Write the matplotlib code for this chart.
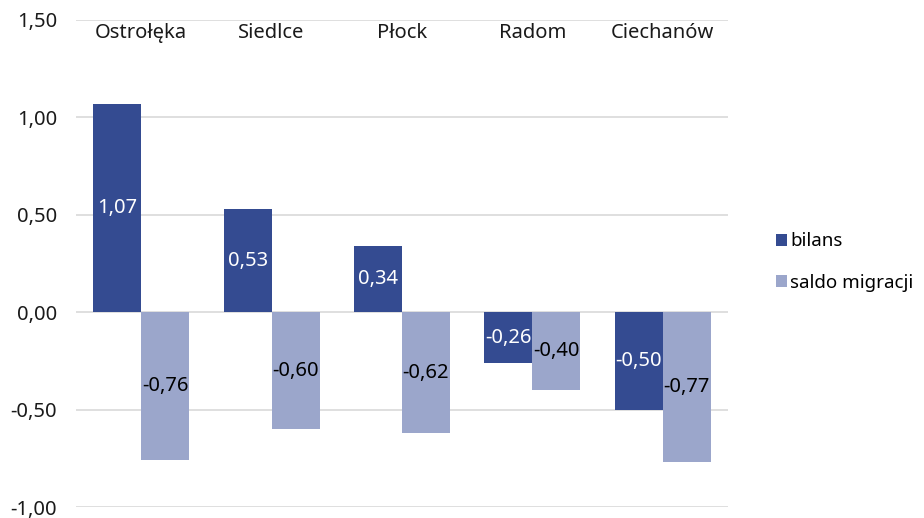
import numpy as np
import matplotlib
matplotlib.use('Agg')
import matplotlib.pyplot as plt
from matplotlib.ticker import FuncFormatter

plt.rcParams['font.family'] = ['Noto Sans', 'DejaVu Sans']

# data
cities = ['Ostrołęka', 'Siedlce', 'Płock', 'Radom', 'Ciechanów']
bilans = [1.07, 0.53, 0.34, -0.26, -0.50]
saldo = [-0.76, -0.60, -0.62, -0.40, -0.77]

dark = '#344b91'
light = '#9ba6cb'
fs = 14.5

fig = plt.figure(figsize=(9.24, 5.18), dpi=100)
ax = fig.add_axes([76/924, 1 - 507/518, (728-76)/924, (507-20)/518])

x = np.arange(len(cities))
w = 0.368
b1 = ax.bar(x - w/2, bilans, w, color=dark, label='bilans', zorder=3)
b2 = ax.bar(x + w/2, saldo, w, color=light, label='saldo migracji', zorder=3)

def fmt(v):
    return f'{v:.2f}'.replace('.', ',')

for rect, v in zip(b1, bilans):
    ax.text(rect.get_x() + rect.get_width()/2, v/2, fmt(v), ha='center', va='center',
            color='white', fontsize=fs, zorder=4)
for rect, v in zip(b2, saldo):
    ax.text(rect.get_x() + rect.get_width()/2, v/2, fmt(v), ha='center', va='center',
            color='black', fontsize=fs, zorder=4)

# category names sit at the top of the plot
for xi, name in zip(x, cities):
    ax.text(xi, 1.435, name, ha='center', va='center', fontsize=fs, color='#1a1a1a')

ax.set_xlim(-0.5, len(cities) - 0.5)
ax.set_ylim(-1.0, 1.5)
ax.set_yticks(np.arange(-1.0, 1.51, 0.5))
ax.yaxis.set_major_formatter(FuncFormatter(lambda v, p: fmt(v)))
ax.set_xticks([])
ax.tick_params(axis='y', length=0, pad=13.5, labelsize=fs, labelcolor='#1a1a1a')
ax.grid(axis='y', color='#d9d9d9', linewidth=1.2, zorder=0)
for s in ax.spines.values():
    s.set_visible(False)

fig.legend(handles=[b1, b2], loc='center left', bbox_to_anchor=(768/924, 1 - 262/518),
           frameon=False, fontsize=13.5, handlelength=0.6, handleheight=0.6,
           handletextpad=0.2, labelspacing=1.25, borderaxespad=0)

fig.savefig('out.png', dpi=100)
